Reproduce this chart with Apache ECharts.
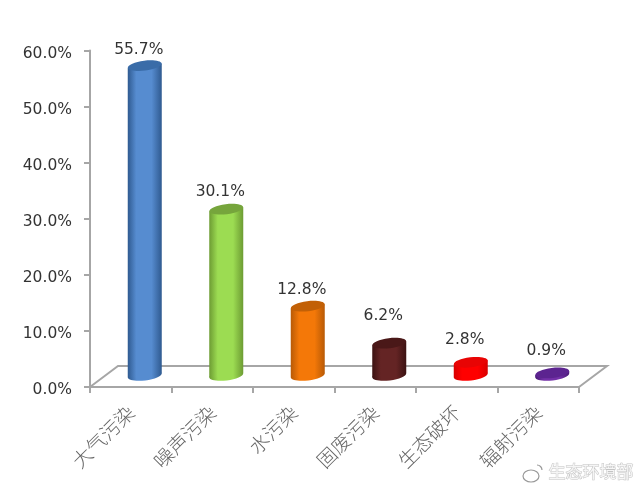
<!DOCTYPE html>
<html><head><meta charset="utf-8">
<style>html,body{margin:0;padding:0;background:#fff}#c{width:640px;height:492px;filter:blur(0.45px)}</style>
<script src="https://cdn.jsdelivr.net/npm/echarts@6/dist/echarts.min.js"></script>
</head><body><div id="c"></div>
<script>
const categories = ['大气污染','噪声污染','水污染','固废污染','生态破坏','辐射污染'];
const values = [55.7,30.1,12.8,6.2,2.8,0.9];
const yTicks = {min:0,max:60,interval:10};

// styles
const palette = [
  {edge:'#2f5a90',mid:'#568cd0',top:'#3a6ca8'},
  {edge:'#6d9c33',mid:'#9cdc52',top:'#76a53c'},
  {edge:'#b85a06',mid:'#f47808',top:'#c26006'},
  {edge:'#3c1212',mid:'#642424',top:'#4a1818'},
  {edge:'#d80000',mid:'#ff0000',top:'#e80404'},
  {edge:'#4a1c78',mid:'#7430a8',top:'#5c2490'}
];
const depthX = 14, topLift = 9, baseLift = 11.5, halfW = 17, ry = 5, tilt = 0.12, labelDx = 8;
const labelLift = [25,26,25,36,31,31];
const floorDx = 28, floorDy = 21;
const axisGrey = '#a6a6a6';

const chart = echarts.init(document.getElementById('c'));

function cylinder(params, api){
  const i = api.value(0), v = api.value(1);
  const top = api.coord([i, v]), base = api.coord([i, 0]);
  const cx = top[0] + depthX, ty = top[1] - topLift, by = base[1] - baseLift;
  const dy = halfW * Math.sin(tilt), c = palette[i];
  const grad = new echarts.graphic.LinearGradient(0,0,1,0,[
    {offset:0,color:c.edge},{offset:0.25,color:c.mid},{offset:0.7,color:c.mid},{offset:1,color:c.edge}]);
  const ell = (y, fill) => ({type:'ellipse', x:cx, y:y, rotation:tilt,
    shape:{cx:0,cy:0,rx:halfW,ry:ry}, style:{fill:fill}});
  return {type:'group', children:[
    ell(by, grad),
    {type:'polygon', shape:{points:[[cx-halfW,ty+dy],[cx+halfW,ty-dy],[cx+halfW,by-dy],[cx-halfW,by+dy]]}, style:{fill:grad}},
    ell(ty, c.top),
    {type:'text', style:{x:top[0]+labelDx, y:top[1]-labelLift[i], text:v.toFixed(1)+'%',
      fontSize:15.5, fontFamily:'DejaVu Sans', fill:'#333', align:'center', verticalAlign:'middle'}}
  ]};
}

function floor(params){
  const g = params.coordSys, x0 = g.x, x1 = g.x + g.width, y = g.y + g.height;
  return {type:'polyline', shape:{points:[[x0,y],[x0+floorDx,y-floorDy],[x1+floorDx,y-floorDy],[x1,y]]},
    style:{stroke:axisGrey, lineWidth:2, fill:null}};
}

chart.setOption({
  animation:false,
  grid:{left:90,right:61,top:50.5,bottom:105},
  xAxis:{type:'category',data:categories,
    axisLine:{lineStyle:{color:axisGrey,width:2}},
    axisTick:{show:true,alignWithLabel:false,length:6,lineStyle:{color:axisGrey,width:2}},
    axisLabel:{rotate:45,margin:22,interval:0,fontSize:19.5,color:'#666',fontFamily:'Noto Sans CJK SC',fontWeight:300}},
  yAxis:{type:'value',min:yTicks.min,max:yTicks.max,interval:yTicks.interval,
    splitLine:{show:false},
    axisLine:{show:true,lineStyle:{color:axisGrey,width:2}},
    axisTick:{show:true,length:6,lineStyle:{color:axisGrey,width:2}},
    axisLabel:{margin:18,formatter:v=>'{a|'+v.toFixed(1)+'%}',
      rich:{a:{fontSize:15.5,color:'#333',fontFamily:'DejaVu Sans',padding:[6,0,0,0]}}}},
  series:[
    {type:'custom',name:'floor',data:[0],clip:false,renderItem:floor,silent:true},
    {type:'custom',name:'污染',clip:false,encode:{x:0,y:1},
      data:values.map((v,i)=>[i,v]),renderItem:cylinder}
  ],
  graphic:[
    {type:'text',left:548,top:463,style:{text:'生态环境部',fontSize:17,fontFamily:'Noto Sans CJK SC',fill:'#f6f6f6',
      stroke:'#c4c4c4',lineWidth:1}},
    {type:'ellipse',x:531,y:476,shape:{cx:0,cy:0,rx:8,ry:6},style:{fill:'none',stroke:'#999',lineWidth:1.2}},
    {type:'arc',x:537,y:470,shape:{cx:0,cy:0,r:5,startAngle:-1.57,endAngle:0},style:{fill:'none',stroke:'#999',lineWidth:1.2}}
  ]
});
</script></body></html>
